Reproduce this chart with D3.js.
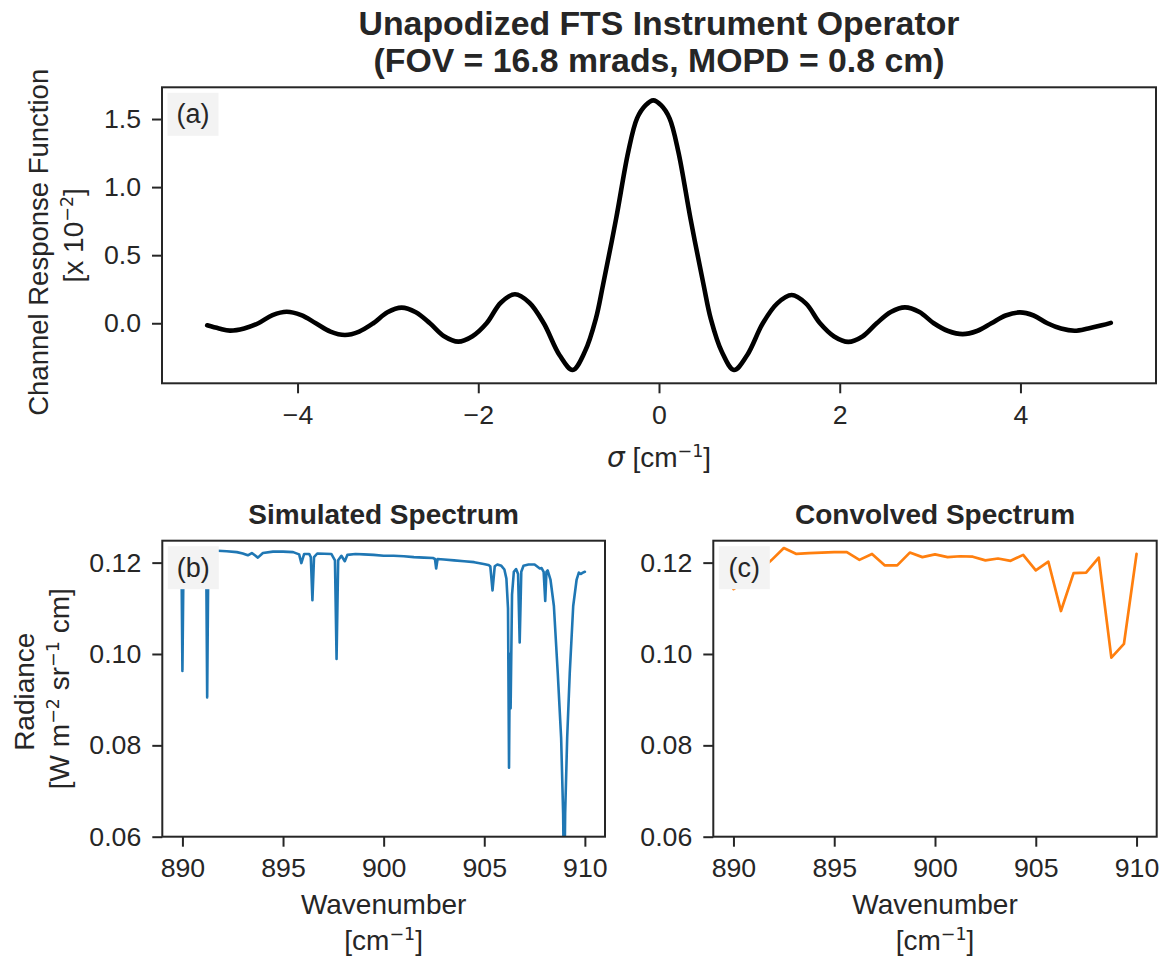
<!DOCTYPE html>
<html>
<head>
<meta charset="utf-8">
<script src="https://cdn.jsdelivr.net/npm/d3@7"></script>
<style>
  html, body { margin: 0; padding: 0; background: #ffffff; }
  svg { display: block; }
</style>
</head>
<body>
<script>
// ---------------- DATA ----------------
// (a) Channel response function, sigma [cm^-1] vs value [x 10^-2]
const crfSigma = [-5.0, -4.87, -4.748, -4.591, -4.434, -4.277, -4.12, -3.959, -3.798, -3.636, -3.475, -3.318, -3.162, -3.005, -2.848, -2.691, -2.535, -2.378, -2.221, -2.064, -1.908, -1.751, -1.594, -1.434, -1.275, -1.10, -0.955, -0.82, -0.70, -0.62, -0.474, -0.34, -0.243, -0.15, -0.063, 0.025, 0.117, 0.214, 0.348, 0.494, 0.574, 0.694, 0.830, 0.975, 1.149, 1.309, 1.468, 1.625, 1.782, 1.938, 2.095, 2.252, 2.409, 2.565, 2.722, 2.882, 3.041, 3.2, 3.36, 3.519, 3.678, 3.836, 3.995, 4.146, 4.298, 4.449, 4.60, 4.75, 4.9, 5.0];
const crfValue = [-0.015, -0.038, -0.054, -0.038, 0.0, 0.060, 0.085, 0.060, 0.0, -0.061, -0.086, -0.061, 0.0, 0.081, 0.115, 0.081, 0.0, -0.095, -0.135, -0.095, 0.0, 0.151, 0.213, 0.151, 0.0, -0.235, -0.343, -0.208, 0.03, 0.28, 0.77, 1.26, 1.505, 1.60, 1.637, 1.60, 1.505, 1.26, 0.77, 0.28, 0.03, -0.208, -0.343, -0.235, 0.0, 0.146, 0.207, 0.146, 0.0, -0.097, -0.137, -0.097, 0.0, 0.083, 0.117, 0.083, 0.0, -0.057, -0.080, -0.057, 0.0, 0.057, 0.080, 0.057, 0.0, -0.039, -0.055, -0.038, -0.015, 0.003];

// (b) Simulated spectrum
const simWavenumber = [889.95, 890.0, 890.06, 890.5, 891.18, 891.23, 891.29, 891.75, 892.2, 892.7, 893.0, 893.25, 893.45, 893.75, 894.0, 894.5, 895.0, 895.5, 895.8, 895.91, 896.05, 896.3, 896.38, 896.46, 896.54, 896.7, 897.4, 897.58, 897.66, 897.74, 897.9, 898.07, 898.2, 898.6, 899.0, 899.5, 900.0, 900.5, 901.0, 901.5, 902.0, 902.45, 902.55, 902.61, 902.68, 903.0, 903.5, 904.0, 904.5, 904.97, 905.2, 905.3, 905.41, 905.52, 905.65, 905.85, 906.0, 906.1, 906.18, 906.23, 906.27, 906.31, 906.38, 906.47, 906.58, 906.68, 906.76, 906.84, 906.95, 907.2, 907.5, 907.76, 907.85, 907.95, 908.03, 908.09, 908.15, 908.29, 908.46, 908.65, 908.82, 908.92, 908.97, 909.02, 909.12, 909.25, 909.42, 909.59, 909.7, 909.8, 909.9, 910.0];
const simRadiance = [0.1226, 0.0963, 0.1226, 0.1226, 0.1226, 0.0905, 0.1226, 0.1226, 0.1225, 0.1223, 0.1220, 0.1216, 0.1221, 0.1211, 0.1221, 0.1224, 0.1224, 0.1223, 0.1218, 0.1199, 0.1219, 0.1219, 0.1212, 0.1118, 0.1212, 0.1220, 0.1219, 0.1205, 0.0989, 0.1205, 0.1215, 0.1203, 0.1217, 0.1219, 0.1218, 0.1217, 0.1215, 0.1215, 0.1214, 0.1212, 0.1211, 0.1210, 0.1208, 0.1187, 0.1208, 0.1207, 0.1205, 0.1203, 0.1201, 0.1197, 0.1195, 0.1192, 0.1139, 0.1192, 0.1196, 0.1193, 0.1185, 0.1165, 0.1100, 0.0751, 0.1000, 0.0881, 0.1130, 0.1180, 0.1186, 0.1175, 0.1025, 0.1180, 0.1193, 0.1196, 0.1196, 0.1187, 0.1188, 0.1180, 0.1116, 0.1180, 0.1183, 0.1163, 0.1105, 0.0960, 0.0816, 0.0650, 0.0450, 0.0650, 0.0816, 0.0960, 0.1105, 0.1163, 0.1178, 0.1175, 0.1178, 0.1180];

// (c) Convolved spectrum
const convWavenumber = [890, 890.625, 891.25, 891.875, 892.5, 893.125, 893.75, 894.375, 895, 895.625, 896.25, 896.875, 897.5, 898.125, 898.75, 899.375, 900, 900.625, 901.25, 901.875, 902.5, 903.125, 903.75, 904.375, 905, 905.625, 906.25, 906.875, 907.5, 908.125, 908.75, 909.375, 910];
const convRadiance = [0.1142, 0.1160, 0.1180, 0.1205, 0.1232, 0.1219, 0.1221, 0.1222, 0.1223, 0.1223, 0.1206, 0.1219, 0.1194, 0.1194, 0.1222, 0.1212, 0.1218, 0.1212, 0.1214, 0.1213, 0.1205, 0.1209, 0.1204, 0.1217, 0.1183, 0.1202, 0.1094, 0.1177, 0.1178, 0.1211, 0.0992, 0.1022, 0.1219];

// tick values
const crfXTicks = [-4, -2, 0, 2, 4];
const crfYTicks = [0.0, 0.5, 1.0, 1.5];
const specXTicks = [890, 895, 900, 905, 910];
const specYTicks = [0.06, 0.08, 0.10, 0.12];

// ---------------- DRAWING ----------------
const W = 1164, H = 958;
const FONT = "'Liberation Sans', Arial, Helvetica, sans-serif";
const MATH = "'DejaVu Sans', sans-serif";
const INK = "#262626";
const TICK_FS = 26.7, LABEL_FS = 28;

const svg = d3.select("body").append("svg")
  .attr("width", W).attr("height", H)
  .attr("font-family", FONT);

svg.append("rect").attr("width", W).attr("height", H).attr("fill", "#ffffff");

function makePanel(id, box, xDomain, yDomain, xTicks, yTicks, xFmt, yFmt) {
  const x = d3.scaleLinear().domain(xDomain).range([box.x0, box.x1]);
  const y = d3.scaleLinear().domain(yDomain).range([box.y1, box.y0]);
  const g = svg.append("g");
  svg.append("clipPath").attr("id", id)
    .append("rect").attr("x", box.x0).attr("y", box.y0)
    .attr("width", box.x1 - box.x0).attr("height", box.y1 - box.y0);

  const xa = g.append("g").attr("transform", `translate(0,${box.y1})`)
    .call(d3.axisBottom(x).tickValues(xTicks).tickFormat(xFmt).tickSize(10).tickPadding(11.5).tickSizeOuter(0));
  const ya = g.append("g").attr("transform", `translate(${box.x0},0)`)
    .call(d3.axisLeft(y).tickValues(yTicks).tickFormat(yFmt).tickSize(10).tickPadding(11).tickSizeOuter(0));
  [xa, ya].forEach(a => {
    a.select(".domain").remove();
    a.selectAll(".tick line").attr("stroke", INK).attr("stroke-width", 2);
    a.selectAll(".tick text").attr("fill", INK).attr("font-size", TICK_FS).attr("font-family", FONT);
  });
  const plot = svg.append("g").attr("clip-path", `url(#${id})`);
  return { x, y, g, plot, box };
}

function frame(p) {
  const b = p.box;
  svg.append("rect").attr("x", b.x0).attr("y", b.y0)
    .attr("width", b.x1 - b.x0).attr("height", b.y1 - b.y0)
    .attr("fill", "none").attr("stroke", INK).attr("stroke-width", 2);
}

function tagBox(p, label) {
  const b = p.box;
  const bx = b.x0 + 5.5, by = b.y0 + 5.5, bw = 51, bh = 43;
  svg.append("rect").attr("x", bx).attr("y", by).attr("width", bw).attr("height", bh)
    .attr("fill", "#f3f3f3");
  svg.append("text").attr("x", bx + bw / 2).attr("y", by + bh / 2)
    .attr("text-anchor", "middle").attr("dominant-baseline", "central")
    .attr("font-size", 27).attr("fill", INK).text(label);
}

// ---- panel (a)
const pa = makePanel("clipA", { x0: 162, x1: 1156, y0: 87.3, y1: 383.3 },
  [-5.5, 5.5], [-0.441, 1.733], crfXTicks, crfYTicks, d3.format("d"), d3.format(".1f"));
const crfData = crfSigma.map((s, i) => [s, crfValue[i]]);
pa.plot.append("path").datum(crfData)
  .attr("fill", "none").attr("stroke", "#000000").attr("stroke-width", 4.6)
  .attr("stroke-linecap", "round").attr("stroke-linejoin", "round")
  .attr("d", d3.line().x(d => pa.x(d[0])).y(d => pa.y(d[1])).curve(d3.curveCatmullRom.alpha(0.5)));
tagBox(pa, "(a)");
frame(pa);

// ---- panel (b)
const pb = makePanel("clipB", { x0: 162.3, x1: 605, y0: 540.7, y1: 836.7 },
  [889, 911], [0.06, 0.1248], specXTicks, specYTicks, d3.format("d"), d3.format(".2f"));
const simData = simWavenumber.map((w, i) => [w, simRadiance[i]]);
pb.plot.append("path").datum(simData)
  .attr("fill", "none").attr("stroke", "#1f77b4").attr("stroke-width", 2.6)
  .attr("stroke-linejoin", "round").attr("stroke-linecap", "round")
  .attr("d", d3.line().x(d => pb.x(d[0])).y(d => pb.y(d[1])));
tagBox(pb, "(b)");
frame(pb);

// ---- panel (c)
const pc = makePanel("clipC", { x0: 713.3, x1: 1156.7, y0: 540.7, y1: 836.7 },
  [889, 911], [0.06, 0.1248], specXTicks, specYTicks, d3.format("d"), d3.format(".2f"));
const convData = convWavenumber.map((w, i) => [w, convRadiance[i]]);
pc.plot.append("path").datum(convData)
  .attr("fill", "none").attr("stroke", "#ff7f0e").attr("stroke-width", 2.7)
  .attr("stroke-linejoin", "round").attr("stroke-linecap", "round")
  .attr("d", d3.line().x(d => pc.x(d[0])).y(d => pc.y(d[1])));
tagBox(pc, "(c)");
frame(pc);

// ---------------- TEXT ----------------
const SUP_FS = 17.5, SUP_RAISE = 10;
function sup(parent, s) {
  parent.append("tspan").attr("font-family", MATH).attr("font-size", SUP_FS).attr("dy", -SUP_RAISE).text(s);
}
function rest(parent, s) {
  parent.append("tspan").attr("dy", SUP_RAISE).attr("font-size", LABEL_FS).text(s);
}

// Main title
const cxTop = (pa.box.x0 + pa.box.x1) / 2;
svg.append("text").attr("x", cxTop).attr("y", 35).attr("text-anchor", "middle")
  .attr("font-size", 33.8).attr("font-weight", "bold").attr("fill", INK)
  .text("Unapodized FTS Instrument Operator");
svg.append("text").attr("x", cxTop).attr("y", 72).attr("text-anchor", "middle")
  .attr("font-size", 33.8).attr("font-weight", "bold").attr("fill", INK)
  .text("(FOV = 16.8 mrads, MOPD = 0.8 cm)");

// Subplot titles
svg.append("text").attr("x", (pb.box.x0 + pb.box.x1) / 2).attr("y", 523.5).attr("text-anchor", "middle")
  .attr("font-size", 28).attr("font-weight", "bold").attr("fill", INK).text("Simulated Spectrum");
svg.append("text").attr("x", (pc.box.x0 + pc.box.x1) / 2).attr("y", 523.5).attr("text-anchor", "middle")
  .attr("font-size", 28).attr("font-weight", "bold").attr("fill", INK).text("Convolved Spectrum");

// (a) x label: sigma [cm^-1]
{
  const t = svg.append("text").attr("x", cxTop).attr("y", 467).attr("text-anchor", "middle")
    .attr("font-size", LABEL_FS).attr("fill", INK);
  t.append("tspan").attr("font-family", MATH).attr("font-style", "italic").text("σ");
  t.append("tspan").text(" [cm");
  sup(t, "−1");
  rest(t, "]");
}
// (a) y label
{
  const cy = (pa.box.y0 + pa.box.y1) / 2;
  svg.append("text").attr("transform", `translate(48,${cy + 7}) rotate(-90)`).attr("text-anchor", "middle")
    .attr("font-size", 27.5).attr("fill", INK).text("Channel Response Function");
  const t = svg.append("text").attr("transform", `translate(83,${cy}) rotate(-90)`).attr("text-anchor", "middle")
    .attr("font-size", LABEL_FS).attr("fill", INK);
  t.append("tspan").text("[x 10");
  sup(t, "−2");
  rest(t, "]");
}
// (b),(c) x labels
[pb, pc].forEach(p => {
  const cx = (p.box.x0 + p.box.x1) / 2;
  svg.append("text").attr("x", cx).attr("y", 913.5).attr("text-anchor", "middle")
    .attr("font-size", LABEL_FS).attr("fill", INK).text("Wavenumber");
  const t = svg.append("text").attr("x", cx).attr("y", 949.5).attr("text-anchor", "middle")
    .attr("font-size", LABEL_FS).attr("fill", INK);
  t.append("tspan").text("[cm");
  sup(t, "−1");
  rest(t, "]");
});
// (b) y label
{
  const cy = (pb.box.y0 + pb.box.y1) / 2;
  svg.append("text").attr("transform", `translate(33.5,${cy + 3}) rotate(-90)`).attr("text-anchor", "middle")
    .attr("font-size", LABEL_FS).attr("fill", INK).text("Radiance");
  const t = svg.append("text").attr("transform", `translate(69,${cy}) rotate(-90)`).attr("text-anchor", "middle")
    .attr("font-size", LABEL_FS).attr("fill", INK);
  t.append("tspan").text("[W m");
  sup(t, "−2");
  t.append("tspan").attr("dy", SUP_RAISE).attr("font-size", LABEL_FS).text(" sr");
  sup(t, "−1");
  rest(t, " cm]");
}
</script>
</body>
</html>
